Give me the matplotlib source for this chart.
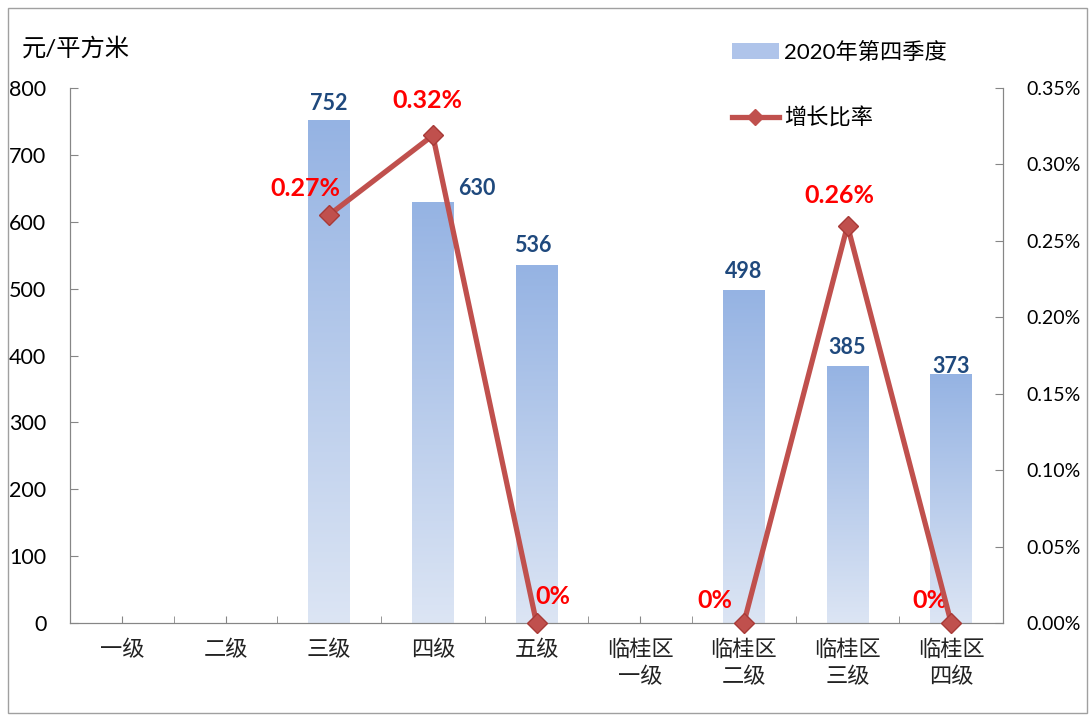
import matplotlib.pyplot as plt
import numpy as np
from matplotlib.colors import LinearSegmentedColormap
from matplotlib.patches import Patch, Rectangle
from matplotlib.lines import Line2D
from matplotlib.ticker import FuncFormatter, MultipleLocator

plt.rcParams['font.family'] = ['Lato', 'Noto Sans CJK SC', 'DejaVu Sans']

categories = ['一级', '二级', '三级', '四级', '五级', '临桂区\n一级', '临桂区\n二级', '临桂区\n三级', '临桂区\n四级']
prices = [np.nan, np.nan, 752, 630, 536, np.nan, 498, 385, 373]
rates = [np.nan, np.nan, 0.00267, 0.00319, 0.0, np.nan, 0.0, 0.0026, 0.0]
rate_labels = [None, None, '0.27%', '0.32%', '0%', None, '0%', '0.26%', '0%']

# label offsets in pixels (dx, dy)
price_offsets = [None, None, (0, 17), (44, 13), (-4, 19), None, (0, 18), (0, 18), (0, 7)]
rate_offsets = [None, None, (-24, 26), (-5, 35), (16, 27), None, (-29, 22), (-8, 30), (-21, 22)]

fig = plt.figure(figsize=(10.91, 7.18), dpi=100)
ax = fig.add_axes([70/1091, 1-623/718, (1003-70)/1091, (623-88)/718])
ax2 = ax.twinx()

x = np.arange(len(categories))
cmap = LinearSegmentedColormap.from_list('bar', ['#DCE5F4', '#95B3E3'])
grad = np.linspace(0, 1, 256).reshape(-1, 1)

bars = ax.bar(x, np.nan_to_num(prices), width=0.4, color='none', edgecolor='none', zorder=2)
for b, v in zip(bars, prices):
    if np.isnan(v):
        continue
    im = ax.imshow(grad, extent=[b.get_x(), b.get_x() + b.get_width(), 0, b.get_height()],
                   origin='lower', aspect='auto', cmap=cmap, zorder=2)
    im.set_clip_path(b)

for i, v in enumerate(prices):
    if np.isnan(v):
        continue
    ax.annotate(str(v), (x[i], v), xytext=price_offsets[i], textcoords='offset pixels',
                ha='center', va='center', fontsize=15.5, fontweight='bold', color='#1F497D')

ax.set_xlim(-0.5, len(categories) - 0.5)
ax.set_ylim(0, 800)
ax.set_yticks(range(0, 801, 100))
ax.set_xticks(x)
ax.set_xticklabels(categories, fontsize=16, linespacing=1.4, color='#222222')
ax.xaxis.set_minor_locator(MultipleLocator(0.5))
ax.tick_params(axis='x', which='both', direction='in', length=5, color='#868686', pad=12)
ax.tick_params(axis='y', direction='in', length=6, color='#868686', labelsize=15.5, pad=17)

ax2.plot(x, rates, color='#C0504D', lw=3.8, marker='D', markersize=10,
         markerfacecolor='#C0504D', markeredgecolor='#A83A37', zorder=4, clip_on=False)
for i, v in enumerate(rates):
    if rate_labels[i] is None:
        continue
    ax2.annotate(rate_labels[i], (x[i], v), xytext=rate_offsets[i], textcoords='offset pixels',
                 ha='center', va='center', fontsize=18, fontweight='bold', color='#FF0000')
ax2.set_ylim(0, 0.0035)
ax2.set_yticks(np.arange(0, 0.00351, 0.0005))
ax2.yaxis.set_major_formatter(FuncFormatter(lambda v, p: '%.2f%%' % (v * 100)))
ax2.tick_params(axis='y', direction='in', length=6, color='#868686', labelsize=14, pad=17)

for a in (ax, ax2):
    a.spines['top'].set_visible(False)
    for s in ('left', 'right', 'bottom'):
        a.spines[s].set_color('#868686')
ax.set_zorder(1)
ax2.set_zorder(2)
ax2.patch.set_visible(False)

fig.text(22/1091, 1-48/718, '元/平方米', fontsize=17.5, va='center', ha='left')

handles = [Patch(facecolor='#AFC4EA', edgecolor='none'),
           Line2D([0], [0], color='#C0504D', lw=3.8, marker='D', markersize=8,
                  markerfacecolor='#C0504D')]
fig.legend(handles, ['2020年第四季度', '增长比率'], loc='upper left',
           bbox_to_anchor=(732/1091, 1-42/718), frameon=False, fontsize=16,
           handlelength=2.1, handletextpad=0.25, labelspacing=2.0,
           borderpad=0, borderaxespad=0)

fig.patches.append(Rectangle((8/1091, 1-713/718), (1087-8)/1091, (713-8)/718,
                             transform=fig.transFigure, fill=False,
                             edgecolor='#A0A0A0', lw=1))

fig.savefig('out.png', dpi=100)
